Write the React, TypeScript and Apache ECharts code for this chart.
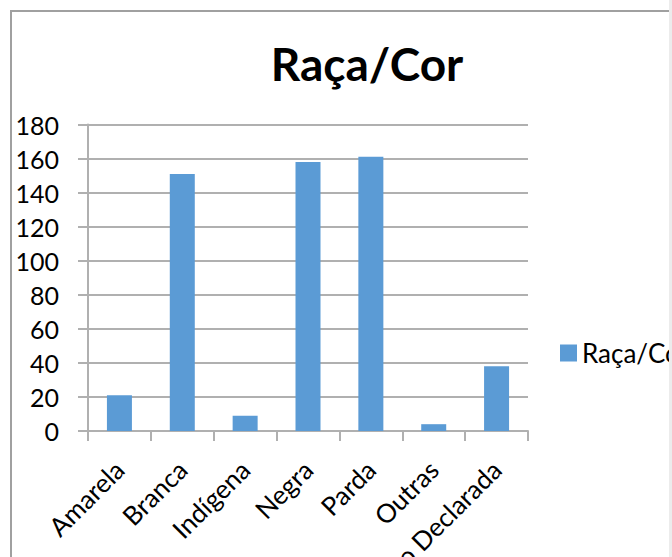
import React, { useEffect, useRef } from "react";
import * as echarts from "echarts";

const categories = ["Amarela", "Branca", "Indígena", "Negra", "Parda", "Outras", "Não Declarada"];
const values = [21, 151, 9, 158, 161, 4, 38];
const seriesName = "Raça/Cor";
const titleText = "Raça/Cor";
const yMin = 0;
const yMax = 180;
const yStep = 20;

export default function App() {
  const ref = useRef<HTMLDivElement>(null);
  useEffect(() => {
    const chart = echarts.init(ref.current!, null, { renderer: "svg" });
    const gray = "#b0b0b0";
    chart.setOption({
      animation: false,
      backgroundColor: "#ffffff",
      textStyle: { fontFamily: "Lato" },
      grid: {
        left: 88,
        right: 144,
        top: 124.5,
        bottom: 126,
        containLabel: false,
        outerBoundsMode: "none",
      },
      xAxis: {
        type: "category",
        data: categories,
        axisLine: { show: true, lineStyle: { color: gray, width: 2 } },
        axisTick: { show: true, length: 10, lineStyle: { color: gray, width: 2 } },
        axisLabel: { rotate: 45, fontSize: 26, color: "#000", margin: 34, interval: 0, fontFamily: "Lato" },
      },
      yAxis: {
        type: "value",
        min: yMin,
        max: yMax,
        interval: yStep,
        axisLine: { show: true, lineStyle: { color: gray, width: 2 } },
        axisTick: { show: true, length: 10, lineStyle: { color: gray, width: 2 } },
        splitLine: { show: true, lineStyle: { color: gray, width: 2 } },
        axisLabel: { fontSize: 25, color: "#000", margin: 29, fontFamily: "Lato" },
      },
      legend: {
        left: 560,
        top: 340,
        padding: 0,
        itemWidth: 17,
        itemHeight: 17,
        icon: "rect",
        itemGap: 0,
        textStyle: { fontSize: 26, color: "#000", lineHeight: 26, fontFamily: "Lato" },
        data: [seriesName],
      },
      series: [
        {
          type: "bar",
          name: seriesName,
          data: values,
          barWidth: 25,
          itemStyle: { color: "#5b9bd5" },
        },
      ],
      graphic: [
        {
          type: "text",
          x: 367,
          y: 63,
          style: {
            text: titleText,
            fontSize: 46,
            fontWeight: "bold",
            fontFamily: "Lato",
            fill: "#000",
            align: "center",
            verticalAlign: "middle",
            textAlign: "center",
            textVerticalAlign: "middle",
          },
        },
        { type: "rect", x: 10, y: 10, shape: { width: 2, height: 547 }, style: { fill: "#a0a0a0" }, z: 100 },
        { type: "rect", x: 10, y: 10, shape: { width: 659, height: 2 }, style: { fill: "#a0a0a0" }, z: 100 },
        { type: "rect", x: 669, y: 0, shape: { width: 3, height: 557 }, style: { fill: "#ececec" }, z: 100 },
      ],
    });
    return () => chart.dispose();
  }, []);
  return <div ref={ref} style={{ position: "absolute", left: 0, top: 0, width: 672, height: 557 }} />;
}
